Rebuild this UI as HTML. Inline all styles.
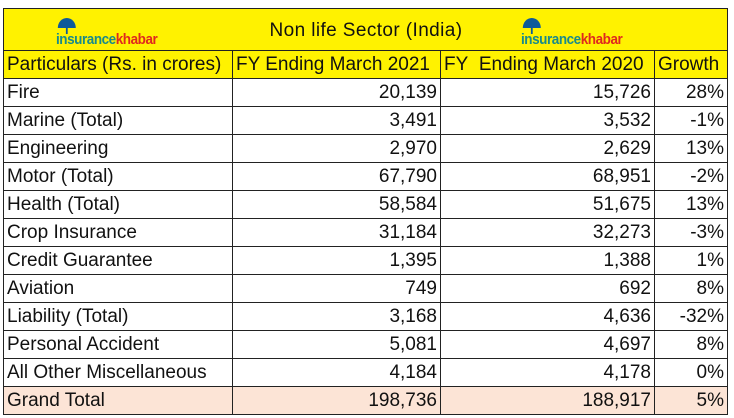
<!DOCTYPE html>
<html><head><meta charset="utf-8">
<style>
body{margin:0;background:#fff;width:734px;height:418px;overflow:hidden;font-family:"Liberation Sans",Arial,sans-serif;}
table{position:absolute;left:3px;top:8px;border-collapse:collapse;table-layout:fixed;font-size:19px;color:#111;}
td{border:1.5px solid #222;padding:0 3px;height:27px;line-height:27px;white-space:nowrap;overflow:hidden;box-sizing:border-box;}
td.r{text-align:right;}
tr.t td{height:42px;background:#FFF200;padding:0;}
tr.h td{background:#FFF200;}
tr.g td{background:#FCE4D6;}
.logo{position:absolute;display:inline-block;font-weight:bold;font-size:15px;letter-spacing:-0.5px;line-height:15px;transform:scaleX(0.9);transform-origin:left;}
.logo .a{color:#1a8a8a}.logo .b{color:#e0291e}
.umb{position:absolute;left:2px;top:-14px;width:20px;height:10px;background:#0d5a9a;border-radius:10px 10px 0 0;}
.umb:after{content:"";position:absolute;left:9px;top:10px;width:2px;height:6px;background:#0d5a9a;}
</style></head><body>
<table>
<colgroup><col style="width:229px"><col style="width:208px"><col style="width:214px"><col style="width:73px"></colgroup>
<tr class="t">
<td style="border-right:none"><div style="position:relative;height:41px"><span class="logo" style="left:52px;top:23px"><span class="umb"></span><span class="a">insurance</span><span class="b">khabar</span></span></div></td>
<td colspan="2" style="border-left:none;border-right:none">
<div style="position:relative;height:41px">
<span style="position:absolute;left:37px;top:5px;line-height:34px;letter-spacing:0.4px">Non life Sector (India)</span>
<span class="logo" style="left:288px;top:23px"><span class="umb"></span><span class="a">insurance</span><span class="b">khabar</span></span>
</div></td>
<td style="border-left:none"></td>
</tr>
<tr class="h"><td>Particulars (Rs. in crores)</td><td>FY Ending March 2021</td><td>FY&nbsp; Ending March 2020</td><td>Growth</td></tr>
<tr><td>Fire</td><td class="r">20,139</td><td class="r">15,726</td><td class="r">28%</td></tr>
<tr><td>Marine (Total)</td><td class="r">3,491</td><td class="r">3,532</td><td class="r">-1%</td></tr>
<tr><td>Engineering</td><td class="r">2,970</td><td class="r">2,629</td><td class="r">13%</td></tr>
<tr><td>Motor (Total)</td><td class="r">67,790</td><td class="r">68,951</td><td class="r">-2%</td></tr>
<tr><td>Health (Total)</td><td class="r">58,584</td><td class="r">51,675</td><td class="r">13%</td></tr>
<tr><td>Crop Insurance</td><td class="r">31,184</td><td class="r">32,273</td><td class="r">-3%</td></tr>
<tr><td>Credit Guarantee</td><td class="r">1,395</td><td class="r">1,388</td><td class="r">1%</td></tr>
<tr><td>Aviation</td><td class="r">749</td><td class="r">692</td><td class="r">8%</td></tr>
<tr><td>Liability (Total)</td><td class="r">3,168</td><td class="r">4,636</td><td class="r">-32%</td></tr>
<tr><td>Personal Accident</td><td class="r">5,081</td><td class="r">4,697</td><td class="r">8%</td></tr>
<tr><td>All Other Miscellaneous</td><td class="r">4,184</td><td class="r">4,178</td><td class="r">0%</td></tr>
<tr class="g"><td>Grand Total</td><td class="r">198,736</td><td class="r">188,917</td><td class="r">5%</td></tr>
</table>
</body></html>
